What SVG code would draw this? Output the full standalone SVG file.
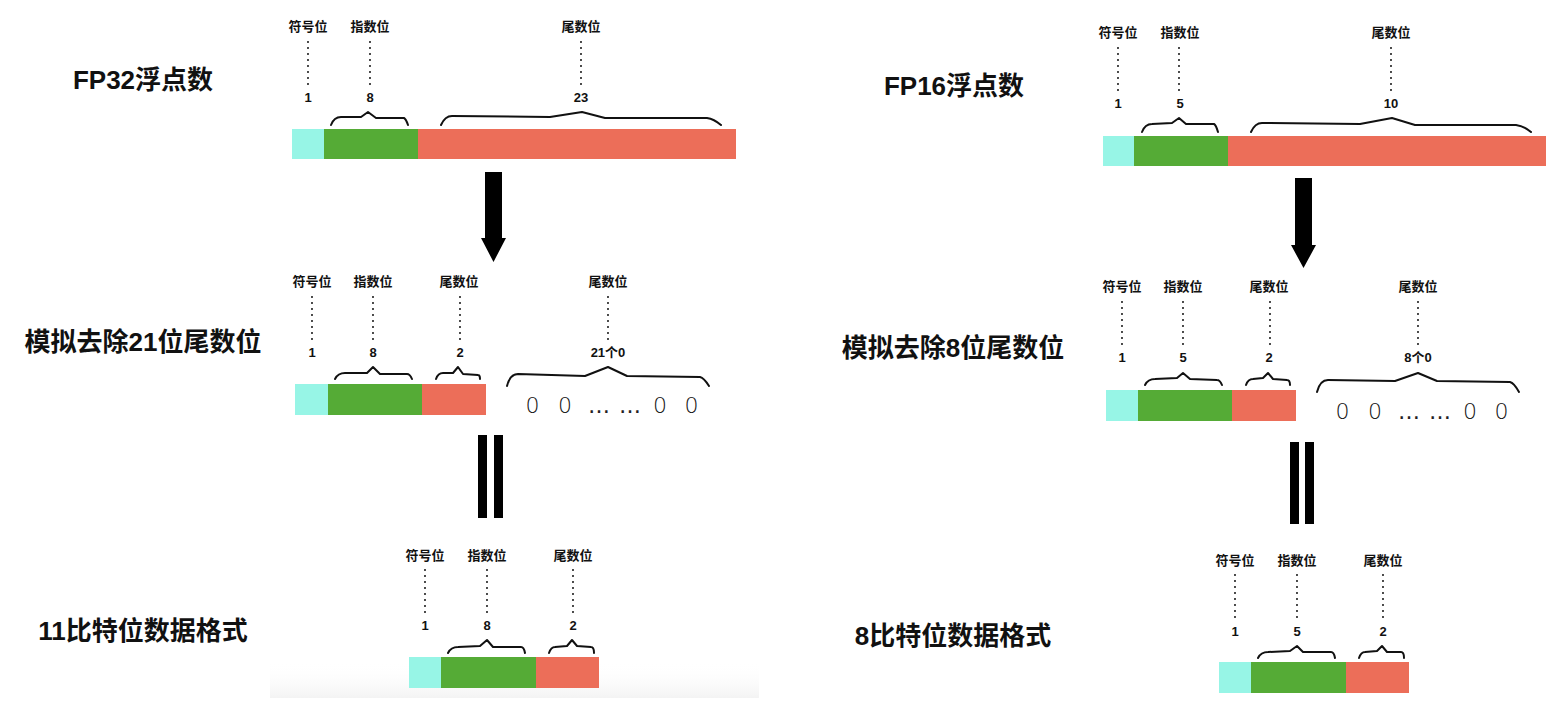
<svg xmlns="http://www.w3.org/2000/svg" width="1560" height="704" viewBox="0 0 1560 704">
<defs>
<style>
.lbl{font-family:"Liberation Sans","Noto Sans CJK SC",sans-serif;font-weight:bold;font-size:13px;text-anchor:middle;fill:#111}
.ttl{font-family:"Liberation Sans","Noto Sans CJK SC",sans-serif;font-weight:bold;font-size:26px;text-anchor:middle;fill:#111}
.dot{stroke:#111;stroke-width:2;stroke-dasharray:0 6;stroke-linecap:round;fill:none}
.brace{fill:none;stroke:#111;stroke-width:2;stroke-linejoin:round;stroke-linecap:round}
.zero{font-family:"DejaVu Sans ExtraLight","DejaVu Sans",sans-serif;font-weight:200;font-size:22px;text-anchor:middle;fill:#111}
.ell{font-family:"DejaVu Sans",sans-serif;font-weight:normal;font-size:22px;text-anchor:middle;fill:#222}
.s{fill:#97F5E6}
.e{fill:#55AB36}
.m{fill:#EC6E59}
.blk{fill:#000}
</style>
<linearGradient id="shade" x1="0" y1="0" x2="0" y2="1">
<stop offset="0" stop-color="#ffffff" stop-opacity="0"/>
<stop offset="1" stop-color="#f3f3f3"/>
</linearGradient>
</defs>
<rect width="1560" height="704" fill="#fff"/>
<rect x="270" y="662" width="489" height="36" fill="url(#shade)"/>

<!-- LEFT TOP: FP32 -->
<g id="fp32">
<text class="ttl" x="143" y="89">FP32浮点数</text>
<text class="lbl" x="308" y="31">符号位</text>
<text class="lbl" x="370" y="31">指数位</text>
<text class="lbl" x="581" y="31">尾数位</text>
<path class="dot" d="M308,42V86M370,42V86M581,42V86"/>
<text class="lbl" x="308" y="102">1</text>
<text class="lbl" x="370" y="102">8</text>
<text class="lbl" x="581" y="102">23</text>
<path class="brace" d="M331,125Q334,117 341,117L361,117L368,112L376,118L404,118Q406,119 408,125"/>
<path class="brace" d="M441,125Q445,116 452,116L550,117L582,112L605,118L707,118Q714,119 721,125"/>
<rect class="s" x="292" y="129" width="32" height="30"/>
<rect class="e" x="324" y="129" width="94" height="30"/>
<rect class="m" x="418" y="129" width="318" height="30"/>
</g>

<!-- LEFT MIDDLE -->
<g id="fp32-trunc">
<text class="ttl" x="143" y="351">模拟去除21位尾数位</text>
<text class="lbl" x="312" y="286">符号位</text>
<text class="lbl" x="373" y="286">指数位</text>
<text class="lbl" x="459" y="286">尾数位</text>
<text class="lbl" x="608" y="286">尾数位</text>
<path class="dot" d="M312,297V341M373,297V341M460,297V341M608,297V341"/>
<text class="lbl" x="312" y="357">1</text>
<text class="lbl" x="373" y="357">8</text>
<text class="lbl" x="460" y="357">2</text>
<text class="lbl" x="608" y="357">21个0</text>
<path class="brace" d="M335,379Q338,373 345,373L367,373L373,367L380,374L407,374Q410,374 412,379"/>
<path class="brace" d="M436,379Q438,373 443,373L453,373L458,367L463,374L478,375Q480,375 480,379"/>
<path class="brace" d="M507,386Q510,374 518,374L585,376L608,367L627,376L700,377Q704,378 709,386"/>
<rect class="s" x="295" y="384" width="33" height="31"/>
<rect class="e" x="328" y="384" width="94" height="31"/>
<rect class="m" x="422" y="384" width="64" height="31"/>
<text class="zero" x="532.5" y="413">0</text>
<text class="zero" x="565" y="413">0</text>
<text class="ell" x="599" y="413">…</text>
<text class="ell" x="630" y="413">…</text>
<text class="zero" x="660" y="413">0</text>
<text class="zero" x="691.5" y="413">0</text>
</g>

<!-- LEFT BOTTOM -->
<g id="fmt11">
<text class="ttl" x="143" y="640">11比特位数据格式</text>
<text class="lbl" x="425" y="560">符号位</text>
<text class="lbl" x="487" y="560">指数位</text>
<text class="lbl" x="573" y="560">尾数位</text>
<path class="dot" d="M425,570V614M487,570V614M573,570V614"/>
<text class="lbl" x="425" y="630">1</text>
<text class="lbl" x="487" y="630">8</text>
<text class="lbl" x="573" y="630">2</text>
<path class="brace" d="M448,653Q451,647 458,647L480,646L487,640L493,647L521,647Q524,647 525,653"/>
<path class="brace" d="M549,653Q551,647 555,647L567,646L572,640L577,646L591,647Q594,647 594,653"/>
<rect class="s" x="409" y="657" width="32" height="31"/>
<rect class="e" x="441" y="657" width="95" height="31"/>
<rect class="m" x="536" y="657" width="63" height="31"/>
</g>

<!-- RIGHT TOP: FP16 -->
<g id="fp16">
<text class="ttl" x="954" y="95">FP16浮点数</text>
<text class="lbl" x="1118" y="37">符号位</text>
<text class="lbl" x="1180" y="37">指数位</text>
<text class="lbl" x="1391" y="37">尾数位</text>
<path class="dot" d="M1118,48V92M1179,48V92M1391,48V92"/>
<text class="lbl" x="1118" y="108">1</text>
<text class="lbl" x="1180" y="108">5</text>
<text class="lbl" x="1391" y="108">10</text>
<path class="brace" d="M1142,132Q1145,124 1152,124L1172,123L1179,118L1186,124L1214,124Q1216,125 1218,132"/>
<path class="brace" d="M1251,132Q1255,123 1262,123L1360,124L1392,118L1415,125L1516,125Q1524,126 1531,132"/>
<rect class="s" x="1103" y="136" width="31" height="30"/>
<rect class="e" x="1134" y="136" width="94" height="30"/>
<rect class="m" x="1228" y="136" width="318" height="30"/>
</g>

<!-- RIGHT MIDDLE -->
<g id="fp16-trunc">
<text class="ttl" x="953" y="357">模拟去除8位尾数位</text>
<text class="lbl" x="1122" y="291">符号位</text>
<text class="lbl" x="1183" y="291">指数位</text>
<text class="lbl" x="1269" y="291">尾数位</text>
<text class="lbl" x="1418" y="291">尾数位</text>
<path class="dot" d="M1122,302V346M1183,302V346M1270,302V346M1418,302V346"/>
<text class="lbl" x="1122" y="362">1</text>
<text class="lbl" x="1183" y="362">5</text>
<text class="lbl" x="1269" y="362">2</text>
<text class="lbl" x="1418" y="362">8个0</text>
<path class="brace" d="M1145,385Q1148,379 1155,379L1177,378L1183,373L1190,379L1217,380Q1220,380 1222,385"/>
<path class="brace" d="M1246,385Q1248,379 1253,379L1263,378L1268,373L1273,379L1287,380Q1290,380 1290,385"/>
<path class="brace" d="M1317,392Q1320,380 1328,380L1395,381L1418,373L1437,381L1510,382Q1514,383 1519,392"/>
<rect class="s" x="1106" y="390" width="32" height="31"/>
<rect class="e" x="1138" y="390" width="94" height="31"/>
<rect class="m" x="1232" y="390" width="64" height="31"/>
<text class="zero" x="1342.5" y="419">0</text>
<text class="zero" x="1375" y="419">0</text>
<text class="ell" x="1409" y="419">…</text>
<text class="ell" x="1440" y="419">…</text>
<text class="zero" x="1470" y="419">0</text>
<text class="zero" x="1501.5" y="419">0</text>
</g>

<!-- RIGHT BOTTOM -->
<g id="fmt8">
<text class="ttl" x="953" y="645">8比特位数据格式</text>
<text class="lbl" x="1235" y="565">符号位</text>
<text class="lbl" x="1297" y="565">指数位</text>
<text class="lbl" x="1383" y="565">尾数位</text>
<path class="dot" d="M1235,575V619M1297,575V619M1383,575V619"/>
<text class="lbl" x="1235" y="636">1</text>
<text class="lbl" x="1297" y="636">5</text>
<text class="lbl" x="1383" y="636">2</text>
<path class="brace" d="M1258,658Q1261,652 1268,652L1290,651L1297,646L1303,652L1331,652Q1334,652 1335,658"/>
<path class="brace" d="M1359,658Q1361,652 1365,652L1377,651L1382,646L1387,652L1401,652Q1404,652 1404,658"/>
<rect class="s" x="1219" y="662" width="32" height="31"/>
<rect class="e" x="1251" y="662" width="95" height="31"/>
<rect class="m" x="1346" y="662" width="63" height="31"/>
</g>

<!-- CONNECTORS -->
<g id="connectors">
<polygon class="blk" points="485,172 502,172 502,238 506,238 493.5,262 481,238 485,238"/>
<rect class="blk" x="478" y="435" width="9" height="83"/>
<rect class="blk" x="494" y="435" width="9" height="83"/>
<polygon class="blk" points="1295,178 1312,178 1312,245 1316,245 1303.5,268 1291,245 1295,245"/>
<rect class="blk" x="1290" y="442" width="9" height="82"/>
<rect class="blk" x="1305" y="442" width="9" height="82"/>
</g>
</svg>
